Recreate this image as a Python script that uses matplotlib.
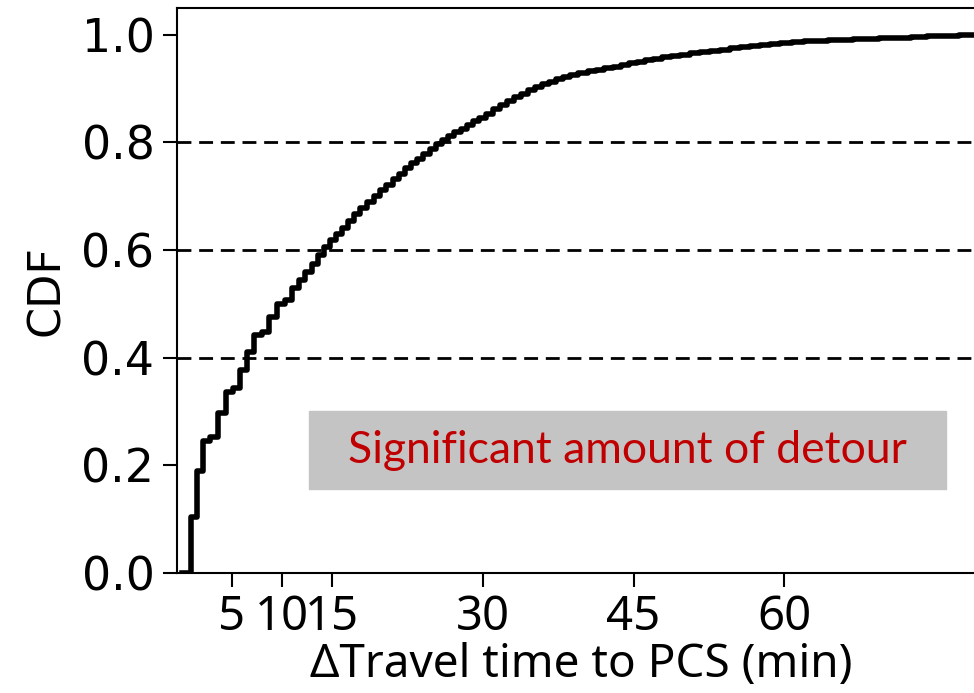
import matplotlib
matplotlib.use('Agg')
import matplotlib.pyplot as plt
from matplotlib.patches import Rectangle

# step positions (minutes) and CDF value after each step
detour_min = [0.0, 0.9, 1.5, 2.1, 2.8, 3.6, 4.4, 5.1, 5.8, 6.5, 7.2, 8.0, 8.7, 9.5,
              10.3, 11.0, 11.7, 12.3, 13.0, 13.6, 14.2, 14.8, 15.4, 16.0, 16.6,
              17.2, 17.8, 18.5, 19.1, 19.7, 20.3, 21.0, 21.6, 22.2, 22.8, 23.4,
              24.0, 24.7, 25.3, 25.9, 26.5, 27.1, 27.8, 28.4, 29.0, 29.6, 30.3,
              31.0, 31.7, 32.4, 33.1, 33.8, 34.5, 35.2, 35.9, 36.6, 37.3, 38.0,
              38.7, 39.5, 40.5, 41.3, 42.1, 42.9, 43.7, 44.5, 45.3, 46.1, 46.9,
              47.8, 48.7, 49.6, 50.6, 51.6, 52.6, 53.6, 54.6, 55.6, 56.6, 57.6,
              58.6, 59.6, 60.8, 62.0, 63.2, 64.4, 65.6, 66.8, 68.0, 69.4, 71.0,
              72.6, 74.2, 75.8, 77.4, 79.0, 80.0]
cdf = [0.0, 0.104, 0.19, 0.245, 0.253, 0.297, 0.336, 0.344, 0.377, 0.41, 0.442,
       0.448, 0.476, 0.50, 0.507, 0.53, 0.545, 0.56, 0.575, 0.59, 0.605, 0.618,
       0.63, 0.642, 0.655, 0.667, 0.678, 0.69, 0.70, 0.711, 0.721, 0.732, 0.742,
       0.752, 0.761, 0.77, 0.779, 0.788, 0.797, 0.805, 0.812, 0.819, 0.826,
       0.833, 0.84, 0.846, 0.853, 0.862, 0.87, 0.877, 0.884, 0.891, 0.897,
       0.903, 0.908, 0.913, 0.918, 0.922, 0.926, 0.929, 0.932, 0.935, 0.938,
       0.941, 0.944, 0.947, 0.95, 0.953, 0.956, 0.958, 0.961, 0.963, 0.966,
       0.968, 0.97, 0.972, 0.975, 0.977, 0.979, 0.981, 0.983, 0.985, 0.986,
       0.988, 0.989, 0.99, 0.991, 0.992, 0.993, 0.994, 0.995, 0.996, 0.997,
       0.998, 0.999, 1.0, 1.0]

x_ticks = [5, 10, 15, 30, 45, 60]
y_ticks = [0.0, 0.2, 0.4, 0.6, 0.8, 1.0]
ref_lines = [0.4, 0.6, 0.8]
note = 'Significant amount of detour'


def draw_chart():
    fig = plt.figure(figsize=(9.74, 6.93), dpi=100)
    ax = fig.add_axes([0.1814, 0.1732, 0.83, 0.8153])

    ax.step(detour_min, cdf, where='post', color='black', lw=4)
    for level in ref_lines:
        ax.axhline(level, color='black', lw=2, dashes=(5, 2.8))

    ax.set_xlim(-0.5, 80.0)
    ax.set_ylim(0, 1.05)
    ax.set_xticks(x_ticks)
    ax.set_xticklabels([str(t) for t in x_ticks], family='Noto Sans', fontsize=34)
    ax.set_yticks(y_ticks)
    ax.set_yticklabels(['%.1f' % t for t in y_ticks], fontsize=33)
    ax.tick_params(length=10, width=1.5, pad=6)
    ax.tick_params(axis='x', pad=5)
    for s in ax.spines.values():
        s.set_linewidth(1.5)

    ax.set_xlabel('\u0394Travel time to PCS (min)', family='Noto Sans', fontsize=33,
                  labelpad=1)
    ax.set_ylabel('CDF', fontsize=32, labelpad=10)

    fig.patches.append(Rectangle((0.3172, 0.2944), 0.654, 0.1126,
                                 transform=fig.transFigure, color='#c4c4c4',
                                 zorder=3))
    fig.text(0.6443, 0.3506, note, color='#c00000', family='Lato', fontsize=32,
             ha='center', va='center', zorder=4)

    fig.savefig('out.png', dpi=100)


if __name__ == '__main__':
    draw_chart()
